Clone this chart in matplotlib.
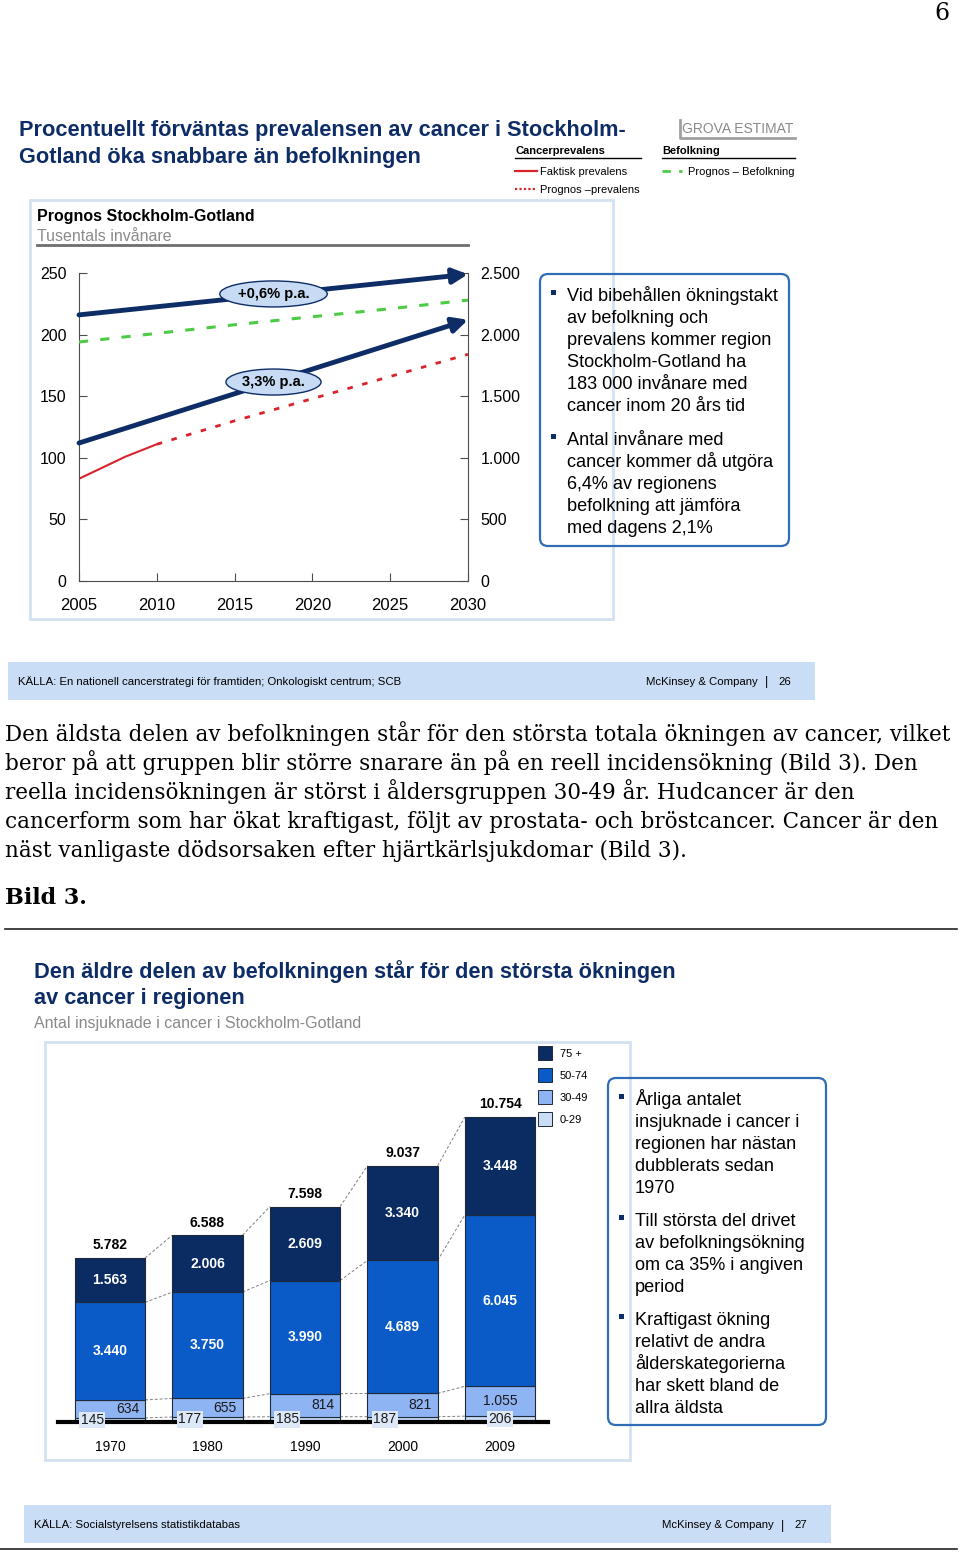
import matplotlib
matplotlib.use("Agg")
import matplotlib.pyplot as plt
from matplotlib.patches import Rectangle, FancyBboxPatch

W, H = 960, 1552
plt.rcParams["font.family"] = ["Liberation Sans", "DejaVu Sans"]

NAVY = "#0E2D66"
GRAY_TXT = "#8A8A8A"
BOX_EDGE = "#D3E1F1"
NOTE_EDGE = "#2F6EB5"
BAND = "#CADDF6"
RED = "#D9232D"
GREEN = "#4CCB45"

# --- Bild 2: prognos Stockholm-Gotland (tusentals invånare) ---
prev_years = [2005, 2006, 2007, 2008, 2009, 2010]
prev_actual = [83, 89, 95, 101, 106, 111]
fc_years = [2010, 2015, 2020, 2025, 2030]
prev_forecast = [111, 130, 148, 166, 184]
pop_years = [2005, 2010, 2015, 2020, 2025, 2030]
pop_forecast = [1940, 2010, 2080, 2145, 2210, 2280]
trend_years = [2005, 2030]
pop_trend = [2160, 2490]
prev_trend = [112, 212]
left_ticks = [0, 50, 100, 150, 200, 250]
right_ticks = [0, 500, 1000, 1500, 2000, 2500]
right_labels = ["0", "500", "1.000", "1.500", "2.000", "2.500"]

# --- Bild 3: antal insjuknade i cancer ---
bar_years = ["1970", "1980", "1990", "2000", "2009"]
age_groups = ["0-29", "30-49", "50-74", "75 +"]
age_0_29 = [145, 177, 185, 187, 206]
age_30_49 = [634, 655, 814, 821, 1055]
age_50_74 = [3440, 3750, 3990, 4689, 6045]
age_75 = [1563, 2006, 2609, 3340, 3448]
totals = [5782, 6588, 7598, 9037, 10754]
age_colors = ["#C9DDF5", "#8FB4F3", "#0A5BC8", "#0B2B63"]


def fmt(v):
    return f"{v:,}".replace(",", ".")


fig = plt.figure(figsize=(W / 100, H / 100), dpi=100)
deco = fig.add_axes([0, 0, 1, 1], zorder=0)
deco.set_xlim(0, W)
deco.set_ylim(H, 0)
deco.axis("off")


def t(x, y, s, size, **kw):
    # y is the middle of the capital letters; place on the baseline below it
    deco.text(x, y + 0.36 * size * 100 / 72, s, fontsize=size, va="baseline", **kw)


def hline(x0, x1, y, **kw):
    deco.plot([x0, x1], [y, y], **kw)


# page number
t(950, 12, "6", 17, family="DejaVu Serif", ha="right")

# ---------------- top chart decoration ----------------
t(19, 128, "Procentuellt förväntas prevalensen av cancer i Stockholm-", 15.7,
  weight="bold", color=NAVY)
t(19, 155, "Gotland öka snabbare än befolkningen", 15.7, weight="bold", color=NAVY)

t(682, 128, "GROVA ESTIMAT", 10, color=GRAY_TXT)
deco.plot([680, 680, 795], [120, 138, 138], color="#A0A0A0", lw=2)

t(515, 150, "Cancerprevalens", 8, weight="bold")
hline(515, 641, 158, color="black", lw=1)
hline(515, 537, 171, color=RED, lw=1.6)
t(540, 171, "Faktisk prevalens", 8)
hline(515, 537, 189, color=RED, lw=1.6, ls=(0, (1, 1)))
t(540, 189, "Prognos \u2013prevalens", 8)
t(662, 150, "Befolkning", 8, weight="bold")
hline(662, 795, 158, color="black", lw=1)
hline(662, 682, 171, color=GREEN, lw=2, ls=(0, (3, 3)))
t(688, 171, "Prognos \u2013 Befolkning", 8)

deco.add_patch(Rectangle((30, 200), 583, 419, fill=False, ec=BOX_EDGE, lw=2))
t(37, 215, "Prognos Stockholm-Gotland", 11.5, weight="bold")
t(37, 235, "Tusentals invånare", 11.5, color=GRAY_TXT)
hline(37, 468, 245, color="#6E6E6E", lw=2)


def note_box(x0, y0, x1, y1, bullets, tx, bx, y_start, gap):
    deco.add_patch(FancyBboxPatch((x0, y0), x1 - x0, y1 - y0,
                                  boxstyle="round,pad=0,rounding_size=8",
                                  fill=False, ec=NOTE_EDGE, lw=1.6))
    y = y_start
    for lines in bullets:
        deco.add_patch(Rectangle((bx - 2, y - 4), 4.5, 4.5, color=NAVY, lw=0))
        for ln in lines:
            t(tx, y, ln, 13.1)
            y += 22
        y += gap


note_box(540, 274, 789, 546,
         [["Vid bibehållen ökningstakt", "av befolkning och", "prevalens kommer region",
           "Stockholm-Gotland ha", "183 000 invånare med", "cancer inom 20 års tid"],
          ["Antal invånare med", "cancer kommer då utgöra", "6,4% av regionens",
           "befolkning att jämföra", "med dagens 2,1%"]],
         567, 553, 294, 12)

# footer 1
deco.add_patch(Rectangle((8, 662), 807, 38, color=BAND, lw=0))
t(18, 681, "KÄLLA: En nationell cancerstrategi för framtiden; Onkologiskt centrum; SCB", 8.2)
t(758, 681, "McKinsey & Company", 8.2, ha="right")
t(767, 681, "|", 9, ha="center")
t(778, 681, "26", 8.2)

# paragraph
para = [
    "Den äldsta delen av befolkningen står för den största totala ökningen av cancer, vilket",
    "beror på att gruppen blir större snarare än på en reell incidensökning (Bild 3). Den",
    "reella incidensökningen är störst i åldersgruppen 30-49 år. Hudcancer är den",
    "cancerform som har ökat kraftigast, följt av prostata- och bröstcancer. Cancer är den",
    "näst vanligaste dödsorsaken efter hjärtkärlsjukdomar (Bild 3).",
]
for k, ln in enumerate(para):
    t(5, 733 + 29 * k, ln, 15.5, family="DejaVu Serif")
t(5, 896, "Bild 3.", 16, family="DejaVu Serif", weight="bold")
hline(5, 957, 929, color="#222222", lw=1.2)

# ---------------- bottom chart decoration ----------------
t(34, 970, "Den äldre delen av befolkningen står för den största ökningen", 15.7,
  weight="bold", color=NAVY)
t(34, 996, "av cancer i regionen", 15.7, weight="bold", color=NAVY)
t(34, 1022, "Antal insjuknade i cancer i Stockholm-Gotland", 11.5, color=GRAY_TXT)
deco.add_patch(Rectangle((45, 1042), 585, 418, fill=False, ec=BOX_EDGE, lw=2))

for k, (lab, col) in enumerate(zip(age_groups[::-1], age_colors[::-1])):
    deco.add_patch(Rectangle((538, 1046 + 22 * k), 14, 14, fc=col, ec="#1E2A3A", lw=0.7))
    t(560, 1053 + 22 * k, lab, 8)

note_box(608, 1078, 826, 1425,
         [["Årliga antalet", "insjuknade i cancer i", "regionen har nästan",
           "dubblerats sedan", "1970"],
          ["Till största del drivet", "av befolkningsökning", "om ca 35% i angiven", "period"],
          ["Kraftigast ökning", "relativt de andra", "ålderskategorierna",
           "har skett bland de", "allra äldsta"]],
         635, 621, 1098, 11)

# footer 2
deco.add_patch(Rectangle((24, 1505), 807, 38, color=BAND, lw=0))
t(34, 1524, "KÄLLA: Socialstyrelsens statistikdatabas", 8.2)
t(774, 1524, "McKinsey & Company", 8.2, ha="right")
t(783, 1524, "|", 9, ha="center")
t(794, 1524, "27", 8.2)
hline(0, 957, 1549, color="#222222", lw=1.2)

# ---------------- top chart ----------------
ax1 = fig.add_axes([79 / W, 1 - 581 / H, 389 / W, 308 / H], zorder=2)
ax1.set_facecolor("none")
ax1.set_xlim(2005, 2030)
ax1.set_ylim(0, 250)
ax2 = ax1.twinx()
ax2.set_ylim(0, 2500)

ax2.plot(pop_years, pop_forecast, color=GREEN, lw=2.2, ls=(0, (3, 4)), zorder=2)
ax1.plot(prev_years, prev_actual, color=RED, lw=1.5, zorder=2)
ax1.plot(fc_years, prev_forecast, color=RED, lw=2, ls=(0, (2, 3.5)), zorder=2)

arrow = dict(arrowstyle="-|>,head_length=0.9,head_width=0.45", lw=3.5, color=NAVY,
             shrinkA=0, shrinkB=0)
ax2.annotate("", xy=(trend_years[1], pop_trend[1]), xytext=(trend_years[0], pop_trend[0]),
             arrowprops=arrow, annotation_clip=False, zorder=3)
ax1.annotate("", xy=(trend_years[1], prev_trend[1]), xytext=(trend_years[0], prev_trend[0]),
             arrowprops=arrow, annotation_clip=False, zorder=3)
lab_box = dict(boxstyle="ellipse,pad=0.15", fc="#C7DBF4", ec=NAVY, lw=1)
ax2.text(2017.5, 2330, "+0,6% p.a.", ha="center", va="center", fontsize=10.5,
         weight="bold", bbox=lab_box, zorder=4)
ax2.text(2017.5, 1615, "3,3% p.a.", ha="center", va="center", fontsize=10.5,
         weight="bold", bbox=lab_box, zorder=4)

ax1.set_xticks(range(2005, 2031, 5))
ax1.set_yticks(left_ticks)
ax2.set_yticks(right_ticks)
ax2.set_yticklabels(right_labels)
ax1.tick_params(axis="x", direction="in", length=6, color="#4D4D4D", labelsize=12, pad=12)
ax1.tick_params(axis="y", direction="in", length=6, color="#4D4D4D", labelsize=11.5, pad=9)
ax2.tick_params(axis="y", direction="in", length=6, color="#4D4D4D", labelsize=11.5, pad=9)
for s in ["top", "right"]:
    ax1.spines[s].set_visible(False)
for s in ["top", "left", "bottom"]:
    ax2.spines[s].set_visible(False)
for a, s in [(ax1, "left"), (ax1, "bottom"), (ax2, "right")]:
    a.spines[s].set_color("#4D4D4D")

# ---------------- bar chart ----------------
px_per_unit = 305 / 10754
ax3 = fig.add_axes([58 / W, 1 - 1422 / H, 490 / W, 360 / H], zorder=2)
ax3.set_facecolor("none")
ax3.set_xlim(-0.533, 4.492)
ax3.set_ylim(0, 360 / px_per_unit)
for s in ax3.spines.values():
    s.set_visible(False)
ax3.set_yticks([])
xs = list(range(len(bar_years)))
ax3.set_xticks(xs)
ax3.set_xticklabels(bar_years)
ax3.tick_params(axis="x", length=0, labelsize=10, pad=13)

bw = 0.72
series = [age_0_29, age_30_49, age_50_74, age_75]
bottom = [0] * len(xs)
levels = []
for vals, col in zip(series, age_colors):
    ax3.bar(xs, vals, bw, bottom=bottom, color=col, edgecolor="#1E2A3A", lw=0.8, zorder=2)
    bottom = [b + v for b, v in zip(bottom, vals)]
    levels.append(list(bottom))

for lvl in levels:
    for i in range(len(xs) - 1):
        ax3.plot([xs[i] + bw / 2, xs[i + 1] - bw / 2], [lvl[i], lvl[i + 1]],
                 color="#808080", lw=0.7, ls=(0, (3, 2)), zorder=1)

ax3.axhline(0, color="black", lw=3, zorder=3, clip_on=False)

last = len(xs) - 1
for i in xs:
    shift = 0 if i == last else 0.18
    ax3.text(xs[i] - shift, age_0_29[i] / 2, str(age_0_29[i]), ha="center", va="center",
             fontsize=10, color="#1A1A1A", zorder=4,
             bbox=dict(boxstyle="square,pad=0.1", fc="#DCE8F7", ec="none"))
    mid = age_0_29[i] + age_30_49[i] / 2
    ax3.text(xs[i] + shift, mid, fmt(age_30_49[i]), ha="center", va="center",
             fontsize=10, color="#1A1A1A", zorder=4)
    mid = levels[1][i] + age_50_74[i] / 2
    ax3.text(xs[i], mid, fmt(age_50_74[i]), ha="center", va="center",
             fontsize=10, weight="bold", color="white", zorder=4)
    mid = levels[2][i] + age_75[i] / 2
    ax3.text(xs[i], mid, fmt(age_75[i]), ha="center", va="center",
             fontsize=10, weight="bold", color="white", zorder=4)
    ax3.annotate(fmt(totals[i]), (xs[i], totals[i]), xytext=(0, 4),
                 textcoords="offset points", ha="center", va="bottom",
                 fontsize=10, weight="bold", zorder=4)

fig.savefig("out.png", dpi=100)
